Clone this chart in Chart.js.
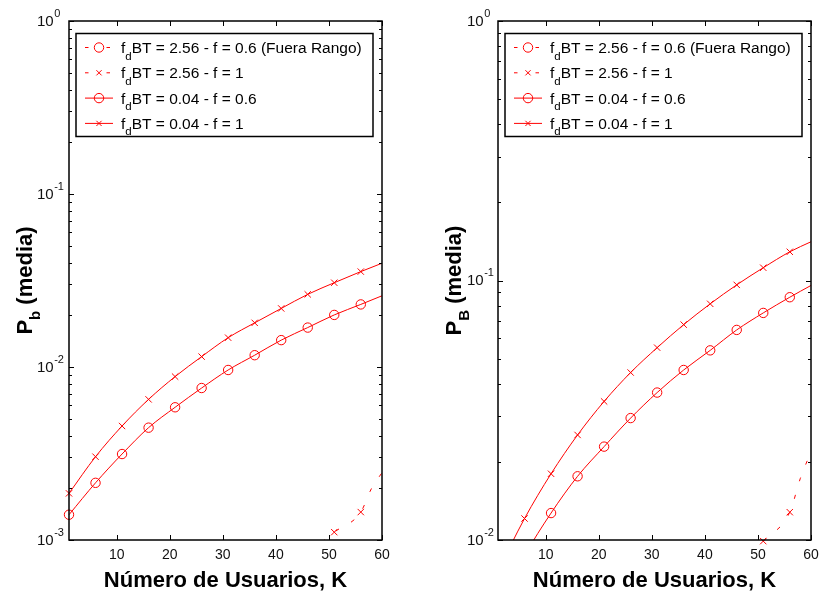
<!DOCTYPE html>
<html>
<head>
<meta charset="utf-8">
<script src="https://cdn.jsdelivr.net/npm/chart.js@4.4.0/dist/chart.umd.min.js"></script>
<style>
  body { margin: 0; background: #fff; }
  canvas { position: absolute; top: 0; }
  #izq { left: 0; }
  #der { left: 410px; }
</style>
</head>
<body>
<canvas id="izq" width="410" height="594"></canvas>
<canvas id="der" width="409" height="594"></canvas>
<script>
// numero de usuarios K (marcadores cada 5, la curva llega a 60)
const usuarios = [1, 6, 11, 16, 21, 26, 31, 36, 41, 46, 51, 56, 60];
const usuariosRapido = [46, 51, 56, 58, 60];
const usuariosRapidoB = [51, 56, 58, 60];

const etiquetas = [
  '2.56 - f = 0.6 (Fuera Rango)',
  '2.56 - f = 1',
  '0.04 - f = 0.6',
  '0.04 - f = 1'
];

// P_b (media)
const pb_lento_f06 = [1.40e-3, 2.14e-3, 3.14e-3, 4.46e-3, 5.85e-3, 7.56e-3, 9.61e-3, 1.17e-2, 1.43e-2, 1.69e-2, 2.00e-2, 2.30e-2, 2.58e-2];
const pb_lento_f1  = [1.86e-3, 3.03e-3, 4.56e-3, 6.50e-3, 8.80e-3, 1.148e-2, 1.477e-2, 1.80e-2, 2.18e-2, 2.63e-2, 3.07e-2, 3.56e-2, 3.98e-2];
const pb_rapido_f1 = [8.3e-4, 1.11e-3, 1.45e-3, 1.98e-3, 2.45e-3];

// P_B (media)
const pB_lento_f06 = [5.5e-3, 8.7e-3, 1.27e-2, 1.76e-2, 2.29e-2, 2.95e-2, 3.70e-2, 4.52e-2, 5.38e-2, 6.45e-2, 7.50e-2, 8.62e-2, 9.57e-2];
const pB_lento_f1  = [7.6e-3, 1.21e-2, 1.80e-2, 2.54e-2, 3.42e-2, 4.42e-2, 5.51e-2, 6.76e-2, 8.13e-2, 9.62e-2, 0.112, 0.129, 0.141];
const pB_rapido_f1 = [9.9e-3, 1.28e-2, 1.73e-2, 2.19e-2];

const xTicks = [10, 20, 30, 40, 50, 60];
const expIzq = [-3, -2, -1, 0];
const expDer = [-2, -1, 0];

const ROJO = '#ff0000';
const FUENTE = '"Liberation Sans", Arial, sans-serif';
const GUION = [4, 14];

function serie(label, xs, ys, estilo, discontinua, clip) {
  return {
    label: label,
    data: xs.map((x, i) => ({ x: x, y: ys[i] })),
    borderColor: ROJO,
    borderWidth: 1,
    borderDash: discontinua ? GUION : [],
    backgroundColor: 'transparent',
    pointStyle: estilo,
    pointBorderColor: ROJO,
    pointBackgroundColor: 'transparent',
    pointBorderWidth: 1,
    // marcador solo en K = 1, 6, 11, ...
    pointRadius: ctx => ((ctx.raw && (ctx.raw.x - 1) % 5 === 0) ? (estilo === 'circle' ? 4.7 : 4.5) : 0),
    cubicInterpolationMode: 'monotone',
    clip: clip
  };
}

function linea(ctx, x1, y1, x2, y2) {
  ctx.beginPath(); ctx.moveTo(x1, y1); ctx.lineTo(x2, y2); ctx.stroke();
}

// marco, ticks, etiquetas y leyenda al estilo de la figura
const ejes = {
  id: 'ejes',
  afterDatasetsDraw(chart, args, o) {
    const ctx = chart.ctx, a = chart.chartArea;
    const xs = chart.scales.x, ys = chart.scales.y;
    ctx.save();
    ctx.strokeStyle = '#000';
    ctx.lineWidth = 1;
    ctx.setLineDash([]);

    xTicks.forEach(v => {
      const px = Math.round(xs.getPixelForValue(v)) + 0.5;
      linea(ctx, px, a.bottom, px, a.bottom - 5);
      linea(ctx, px, a.top, px, a.top + 5);
    });
    for (let e = o.exps[0]; e <= 0; e++) {
      for (let m = 1; m < 10; m++) {
        if (e === 0 && m > 1) break;
        const py = Math.round(ys.getPixelForValue(m * Math.pow(10, e))) + 0.5;
        const len = m === 1 ? 5 : 3;
        linea(ctx, a.left, py, a.left + len, py);
        linea(ctx, a.right, py, a.right - len, py);
      }
    }
    ctx.lineWidth = 1.5;
    ctx.strokeRect(a.left, a.top, a.right - a.left, a.bottom - a.top);

    // etiquetas eje x
    ctx.fillStyle = '#111';
    ctx.font = '14px ' + FUENTE;
    ctx.textAlign = 'center';
    ctx.textBaseline = 'alphabetic';
    xTicks.forEach(v => ctx.fillText(String(v), xs.getPixelForValue(v), a.bottom + 19));

    // etiquetas eje y: 10^e
    ctx.textAlign = 'left';
    o.exps.forEach(e => {
      const py = ys.getPixelForValue(Math.pow(10, e));
      ctx.font = '15px ' + FUENTE;
      ctx.fillText('10', o.yLabelX, py + 4.5);
      const w = ctx.measureText('10').width;
      ctx.font = '11px ' + FUENTE;
      ctx.fillText(String(e), o.yLabelX + w + 0.5, py - 4.5);
    });

    // titulo eje x
    ctx.fillStyle = '#000';
    ctx.font = 'bold 22px ' + FUENTE;
    ctx.textAlign = 'center';
    ctx.fillText('Número de Usuarios, K', (a.left + a.right) / 2, a.bottom + 47);
    ctx.textAlign = 'left';

    // titulo eje y con subindice
    ctx.save();
    ctx.translate(a.left - 37, (a.top + a.bottom) / 2);
    ctx.rotate(-Math.PI / 2);
    const fP = 'bold 22px ' + FUENTE, fS = 'bold 15px ' + FUENTE;
    ctx.font = fP; const wP = ctx.measureText('P').width; const wR = ctx.measureText(' (media)').width;
    ctx.font = fS; const wS = ctx.measureText(o.sub).width;
    let x0 = -(wP + wS + wR) / 2;
    ctx.font = fP; ctx.fillText('P', x0, 0);
    ctx.font = fS; ctx.fillText(o.sub, x0 + wP, 8);
    ctx.font = fP; ctx.fillText(' (media)', x0 + wP + wS, 0);
    ctx.restore();

    // leyenda
    const bx = a.left + 7, by = 33.5, bw = a.right - a.left - 16, bh = 103;
    ctx.fillStyle = '#fff';
    ctx.fillRect(bx, by, bw, bh);
    ctx.lineWidth = 1.5;
    ctx.strokeStyle = '#000';
    ctx.strokeRect(bx, by, bw, bh);
    ctx.textAlign = 'left';
    chart.data.datasets.forEach((ds, i) => {
      const cy = by + 14 + i * 25.3;
      const mx = bx + 23;
      ctx.strokeStyle = ROJO;
      ctx.lineWidth = 1;
      if (ds.borderDash.length) {
        ctx.setLineDash([3.5, 18]);
        linea(ctx, bx + 9, cy, bx + 35, cy);
      } else {
        ctx.setLineDash([]);
        linea(ctx, bx + 9, cy, bx + 37, cy);
      }
      ctx.setLineDash([]);
      if (ds.pointStyle === 'circle') {
        ctx.beginPath(); ctx.arc(mx, cy, 4.7, 0, Math.PI * 2); ctx.stroke();
      } else {
        const d = 2.6;
        linea(ctx, mx - d, cy - d, mx + d, cy + d);
        linea(ctx, mx - d, cy + d, mx + d, cy - d);
      }
      ctx.fillStyle = '#000';
      const tx = bx + 45;
      ctx.font = '15.5px ' + FUENTE;
      ctx.fillText('f', tx, cy + 5.5);
      const wf = ctx.measureText('f').width;
      ctx.font = '11.5px ' + FUENTE;
      ctx.fillText('d', tx + wf, cy + 12);
      const wd = ctx.measureText('d').width;
      ctx.font = '15.5px ' + FUENTE;
      ctx.fillText('BT = ' + etiquetas[i], tx + wf + wd, cy + 5.5);
    });
    ctx.restore();
  }
};

function opciones(ymin, padding, extra) {
  return {
    responsive: false,
    animation: false,
    devicePixelRatio: 1,
    events: [],
    layout: { padding: padding, autoPadding: false },
    plugins: { legend: { display: false }, tooltip: { enabled: false }, ejes: extra },
    scales: {
      x: { type: 'linear', min: 1, max: 60, display: false },
      y: { type: 'logarithmic', min: ymin, max: 1, display: false }
    }
  };
}

new Chart(document.getElementById('izq'), {
  type: 'line',
  data: {
    datasets: [
      serie('fdBT = ' + etiquetas[0], [], [], 'circle', true, 0),
      serie('fdBT = ' + etiquetas[1], usuariosRapido, pb_rapido_f1, 'crossRot', true, 0),
      serie('fdBT = ' + etiquetas[2], usuarios, pb_lento_f06, 'circle', false, { left: 6, top: 0, right: 0, bottom: 0 }),
      serie('fdBT = ' + etiquetas[3], usuarios, pb_lento_f1, 'crossRot', false, { left: 6, top: 0, right: 0, bottom: 0 })
    ]
  },
  options: opciones(1e-3, { left: 69, right: 28, top: 21, bottom: 54 }, { exps: expIzq, yLabelX: 37, sub: 'b' }),
  plugins: [ejes]
});

new Chart(document.getElementById('der'), {
  type: 'line',
  data: {
    datasets: [
      serie('fdBT = ' + etiquetas[0], [], [], 'circle', true, 0),
      serie('fdBT = ' + etiquetas[1], usuariosRapidoB, pB_rapido_f1, 'crossRot', true, { left: 0, top: 0, right: 0, bottom: 6 }),
      serie('fdBT = ' + etiquetas[2], usuarios, pB_lento_f06, 'circle', false, 0),
      serie('fdBT = ' + etiquetas[3], usuarios, pB_lento_f1, 'crossRot', false, 0)
    ]
  },
  options: opciones(1e-2, { left: 88, right: 8, top: 21, bottom: 54 }, { exps: expDer, yLabelX: 57, sub: 'B' }),
  plugins: [ejes]
});
</script>
</body>
</html>
